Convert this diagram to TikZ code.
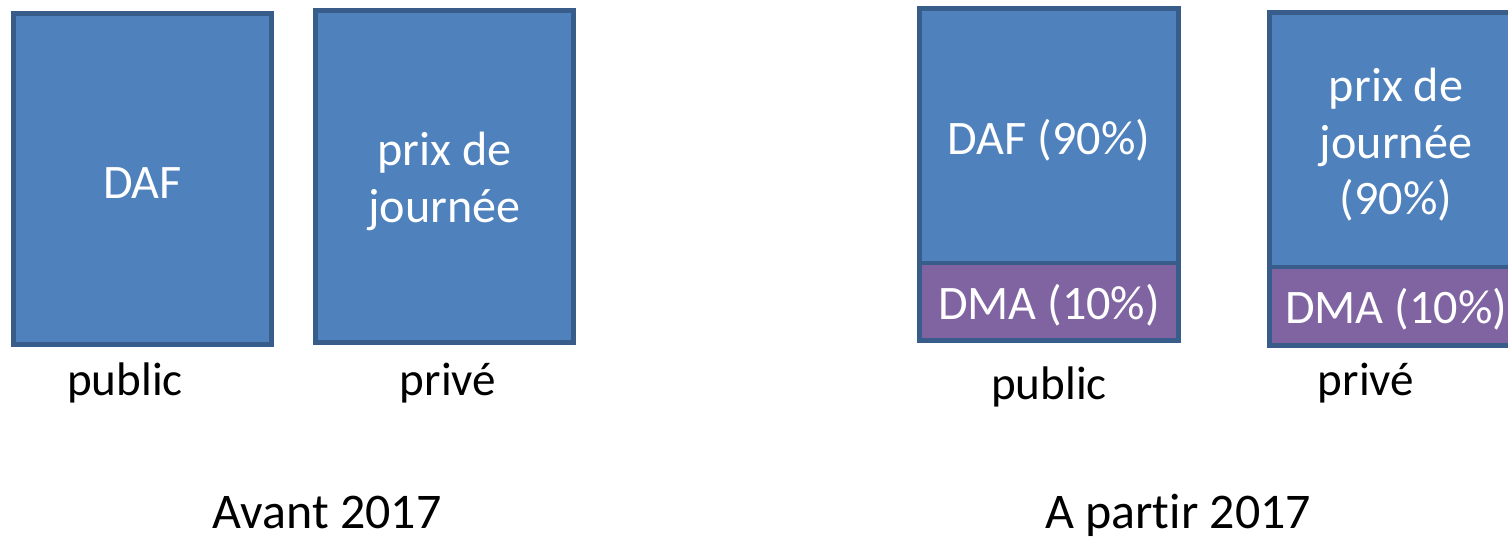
\documentclass[tikz,border=0pt]{standalone}
\usepackage{fontspec}
\setmainfont{Carlito}[Ligatures=NoCommon]
\definecolor{barblue}{HTML}{4F81BD}
\definecolor{barpurple}{HTML}{8064A2}
\definecolor{barline}{HTML}{385D8A}

\begin{document}
\begin{tikzpicture}[font=\fontsize{13.4}{16}\selectfont,
		bar/.style={draw=barline, line width=1.3pt, fill=barblue, inner sep=0pt},
		dma/.style={bar, fill=barpurple},
		bartxt/.style={text=white, align=center, inner sep=0pt, font=\fontsize{13.7}{16.1}\selectfont},
		lbl/.style={anchor=base},
		title/.style={anchor=base, font=\fontsize{14.2}{17}\selectfont}]
	\useasboundingbox (0,0) rectangle (15.08,-5.42);
	\clip (0,0) rectangle (15.08,-5.42);
	% Avant 2017
	\node[bar, minimum width=2.58cm, minimum height=3.31cm] (pubA) at (1.425,-1.79) {};
	\node[bar, minimum width=2.58cm, minimum height=3.32cm] (priA) at (4.445,-1.765) {};
	\node[bartxt] (pubAtxt) at ([yshift=-0.04cm]pubA.center) {DAF};
	\node[bartxt] (priAtxt) at ([yshift=-0.05cm]priA.center) {prix de\\journée};
	\node[lbl] (pubAlbl) at (1.25,-3.95) {public};
	\node[lbl] (priAlbl) at (4.48,-3.95) {privé};
	\node[title] (avant) at (3.27,-5.28) {Avant 2017};
	% A partir 2017
	\node[bar, minimum width=2.59cm, minimum height=2.545cm] (pubB) at (10.49,-1.3575) {};
	\node[dma, minimum width=2.59cm, minimum height=0.775cm] (pubBdma) at (10.49,-3.0175) {};
	\node[bar, minimum width=2.53cm, minimum height=2.545cm] (priB) at (13.96,-1.3975) {};
	\node[dma, minimum width=2.53cm, minimum height=0.785cm] (priBdma) at (13.96,-3.0625) {};
	\node[bartxt] (pubBtxt) at ([yshift=-0.04cm]pubB.center) {DAF (90\%)};
	\node[bartxt] (pubBdmatxt) at ([yshift=-0.03cm]pubBdma.center) {DMA (10\%)};
	\node[bartxt] (priBtxt) at ([yshift=-0.05cm]priB.center) {prix de\\journée\\(90\%)};
	\node[bartxt] (priBdmatxt) at ([yshift=-0.03cm]priBdma.center) {DMA (10\%)};
	\node[lbl] (pubBlbl) at (10.49,-3.99) {public};
	\node[lbl] (priBlbl) at (13.66,-3.95) {privé};
	\node[title] (apartir) at (11.78,-5.28) {A partir 2017};
\end{tikzpicture}
\end{document}
